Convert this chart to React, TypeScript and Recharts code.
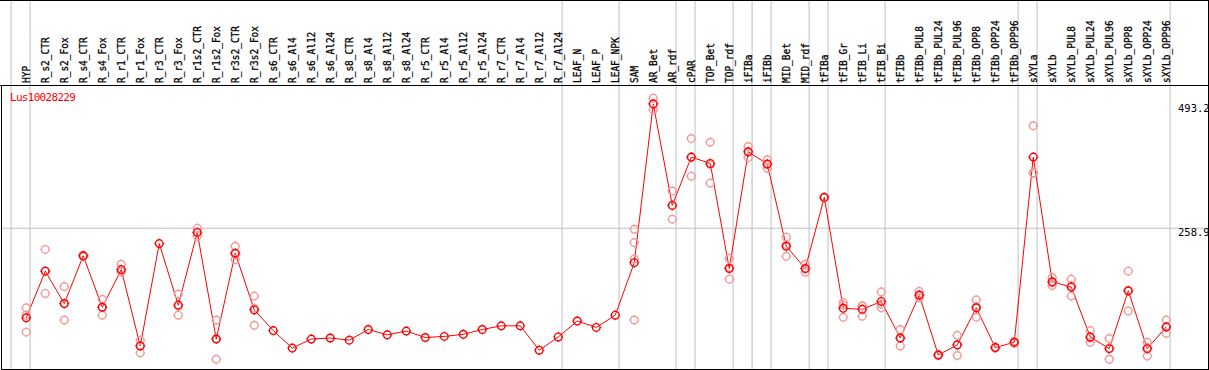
import { ComposedChart, Line, Scatter, XAxis, YAxis, ReferenceLine } from "recharts"

const CATEGORIES = [
  "HYP", "R_s2_CTR", "R_s2_Fox", "R_s4_CTR", "R_s4_Fox", "R_r1_CTR", "R_r1_Fox", "R_r3_CTR", "R_r3_Fox",
  "R_r1s2_CTR", "R_r1s2_Fox", "R_r3s2_CTR", "R_r3s2_Fox", "R_s6_CTR", "R_s6_Al4", "R_s6_Al12", "R_s6_Al24",
  "R_s8_CTR", "R_s8_Al4", "R_s8_Al12", "R_s8_Al24", "R_r5_CTR", "R_r5_Al4", "R_r5_Al12", "R_r5_Al24",
  "R_r7_CTR", "R_r7_Al4", "R_r7_Al12", "R_r7_Al24", "LEAF_N", "LEAF_P", "LEAF_NPK", "SAM", "AR_Bet", "AR_rdf",
  "cPAR", "TOP_Bet", "TOP_rdf", "iFIBa", "iFIBb", "MID_Bet", "MID_rdf", "tFIBa", "tFIB_Gr", "tFIB_Li", "tFIB_Bi",
  "tFIBb", "tFIBb_PUL8", "tFIBb_PUL24", "tFIBb_PUL96", "tFIBb_OPP8", "tFIBb_OPP24", "tFIBb_OPP96",
  "sXYLa", "sXYLb", "sXYLb_PUL8", "sXYLb_PUL24", "sXYLb_PUL96", "sXYLb_OPP8", "sXYLb_OPP24", "sXYLb_OPP96",
]

// mean expression per sample
const MEANS = [
  90, 178, 117, 207, 110, 181, 37, 230, 114,
  251, 50, 212, 105, 66, 33, 50, 52,
  48, 68, 58, 65, 53, 55, 59, 68,
  75, 75, 29, 54, 84, 72, 95, 194, 493.2, 302,
  393, 381, 183, 403, 380, 225, 183, 317, 108, 106, 121,
  52, 133, 20, 39, 109, 34, 44,
  393, 158, 148, 54, 32, 141, 32, 73,
]

// individual replicates (empty where none show)
const REPLICATES: number[][] = [
  [109, 95, 63], [219, 136, 178], [149, 86, 117], [208, 206, 206], [125, 95, 110], [191, 177, 177], [48, 24, 38], [], [135, 95, 112],
  [259, 244, 251], [86, 12, 51], [225, 200, 210], [131, 76, 108], [], [], [], [],
  [], [], [], [], [], [], [], [],
  [], [], [], [], [], [], [], [257, 232, 201, 86], [504, 482, 494], [329, 276, 302],
  [428, 357, 392], [421, 344, 379], [202, 163, 185], [413, 392, 403], [388, 372, 379], [242, 206, 228], [191, 176, 183], [318, 316], [119, 91, 114], [113, 93, 112], [139, 109, 116],
  [68, 37, 52], [140, 132, 128], [21, 19], [57, 19, 40], [124, 91, 111], [35, 33], [46, 42],
  [452, 363, 363], [166, 151, 156], [163, 131, 151], [66, 44, 52], [51, 12, 33], [178, 103, 141], [44, 18, 34], [86, 61, 72],
]

// last index of each sample group (separator lines sit right after it)
const GROUP_ENDS = [-1, 0, 28, 31, 34, 35, 37, 38, 39, 41, 42, 45, 52, 53, 60]
const Y_TICKS = [0, 258.9, 493.2]
const GENE = "Lus10028229"

const W = 1209
const H = 370
const HEADER_H = 85
const PLOT_H = 284
const X_LO = -1.33
const X_HI = X_LO + 1207 / 19
const Y_LO = -6.4
const Y_HI = 528.9
const Y_TOP = Y_HI + ((Y_HI - Y_LO) * HEADER_H) / PLOT_H
const MONO = "'DejaVu Sans Mono', monospace"
const RED = "#ff0000"
const PINK = "#f29a9a"
const GRID = "#c0c0c0"

const chartData = MEANS.map((m, i) => ({ idx: i, mean: m }))
const repData = REPLICATES.flatMap((reps, i) => reps.map((v) => ({ idx: i, rep: v })))

const Ring = ({ cx, cy, color }: any) => {
  if (cx == null || cy == null) return null
  const a = 3.8
  const b = 5
  return (
    <g>
      <circle cx={cx} cy={cy} r={a} fill="none" stroke={color} strokeWidth={1.4} />
      <path
        d={`M${cx} ${cy - b}V${cy - a}M${cx} ${cy + a}V${cy + b}M${cx - b} ${cy}H${cx - a}M${cx + a} ${cy}H${cx + b}`}
        stroke={color}
        strokeWidth={1}
      />
    </g>
  )
}

const HeaderTick = ({ x, payload }: any) => {
  const label = CATEGORIES[payload.value]
  if (!label) return null
  const bx = x + 3.5
  return (
    <text
      x={bx}
      y={83}
      transform={`rotate(-90 ${bx} 83)`}
      fontFamily={MONO}
      fontSize={11}
      fill="#000"
      stroke="#000"
      strokeWidth={0.3}
      textLength={label.length * 5.7}
      lengthAdjust="spacingAndGlyphs"
    >
      {label}
    </text>
  )
}

const ValueTick = ({ y, payload }: any) => {
  const base = Math.min(y + 8, H - 4)
  return (
    <text x={1178} y={base} fontFamily={MONO} fontSize={10.5} fill="#000">
      {payload.value}
    </text>
  )
}

export default function App() {
  return (
    <div style={{ position: "relative", width: W, height: H, background: "#fff" }}>
      <style>{"body{margin:0}"}</style>
      <ComposedChart width={W} height={H} data={chartData} margin={{ top: 0, right: 1, bottom: 1, left: 1 }}>
        <XAxis
          dataKey="idx"
          type="number"
          orientation="top"
          height={HEADER_H}
          domain={[X_LO, X_HI]}
          allowDataOverflow
          ticks={CATEGORIES.map((_, i) => i)}
          interval={0}
          tick={<HeaderTick />}
          tickLine={false}
          axisLine={false}
        />
        <YAxis
          type="number"
          orientation="right"
          mirror
          domain={[Y_LO, Y_HI]}
          allowDataOverflow
          ticks={Y_TICKS}
          tick={<ValueTick />}
          tickLine={false}
          axisLine={false}
        />
        <ReferenceLine y={258.9} stroke={GRID} strokeWidth={1} />
        {GROUP_ENDS.map((e) => (
          <ReferenceLine
            key={e}
            segment={[
              { x: e + 0.2, y: Y_LO },
              { x: e + 0.2, y: Y_TOP },
            ]}
            ifOverflow="visible"
            stroke={GRID}
            strokeWidth={1}
          />
        ))}
        <Scatter
          data={repData}
          dataKey="rep"
          isAnimationActive={false}
          shape={(p: any) => <Ring cx={p.cx} cy={p.cy} color={PINK} />}
        />
        <Line
          dataKey="mean"
          type="linear"
          stroke={RED}
          strokeWidth={1}
          dot={(p: any) => <Ring key={p.index} cx={p.cx} cy={p.cy} color={RED} />}
          activeDot={false}
          isAnimationActive={false}
        />
      </ComposedChart>
      <div
        style={{
          position: "absolute", left: 0, top: 0, width: W, height: HEADER_H + 1, boxSizing: "border-box",
          borderTop: "1px solid #000", borderBottom: "1px solid #000", borderRight: "1px solid #000", pointerEvents: "none",
        }}
      />
      <div
        style={{
          position: "absolute", left: 1, top: HEADER_H, width: W - 1, height: H - HEADER_H, boxSizing: "border-box",
          borderLeft: "1px solid #000", borderBottom: "1px solid #000", borderRight: "1px solid #000", pointerEvents: "none",
        }}
      />
      <div
        style={{
          position: "absolute", left: 10, top: 91, fontFamily: MONO, fontSize: 11, color: RED, lineHeight: "14px",
          letterSpacing: -0.7, pointerEvents: "none",
        }}
      >
        {GENE}
      </div>
    </div>
  )
}
